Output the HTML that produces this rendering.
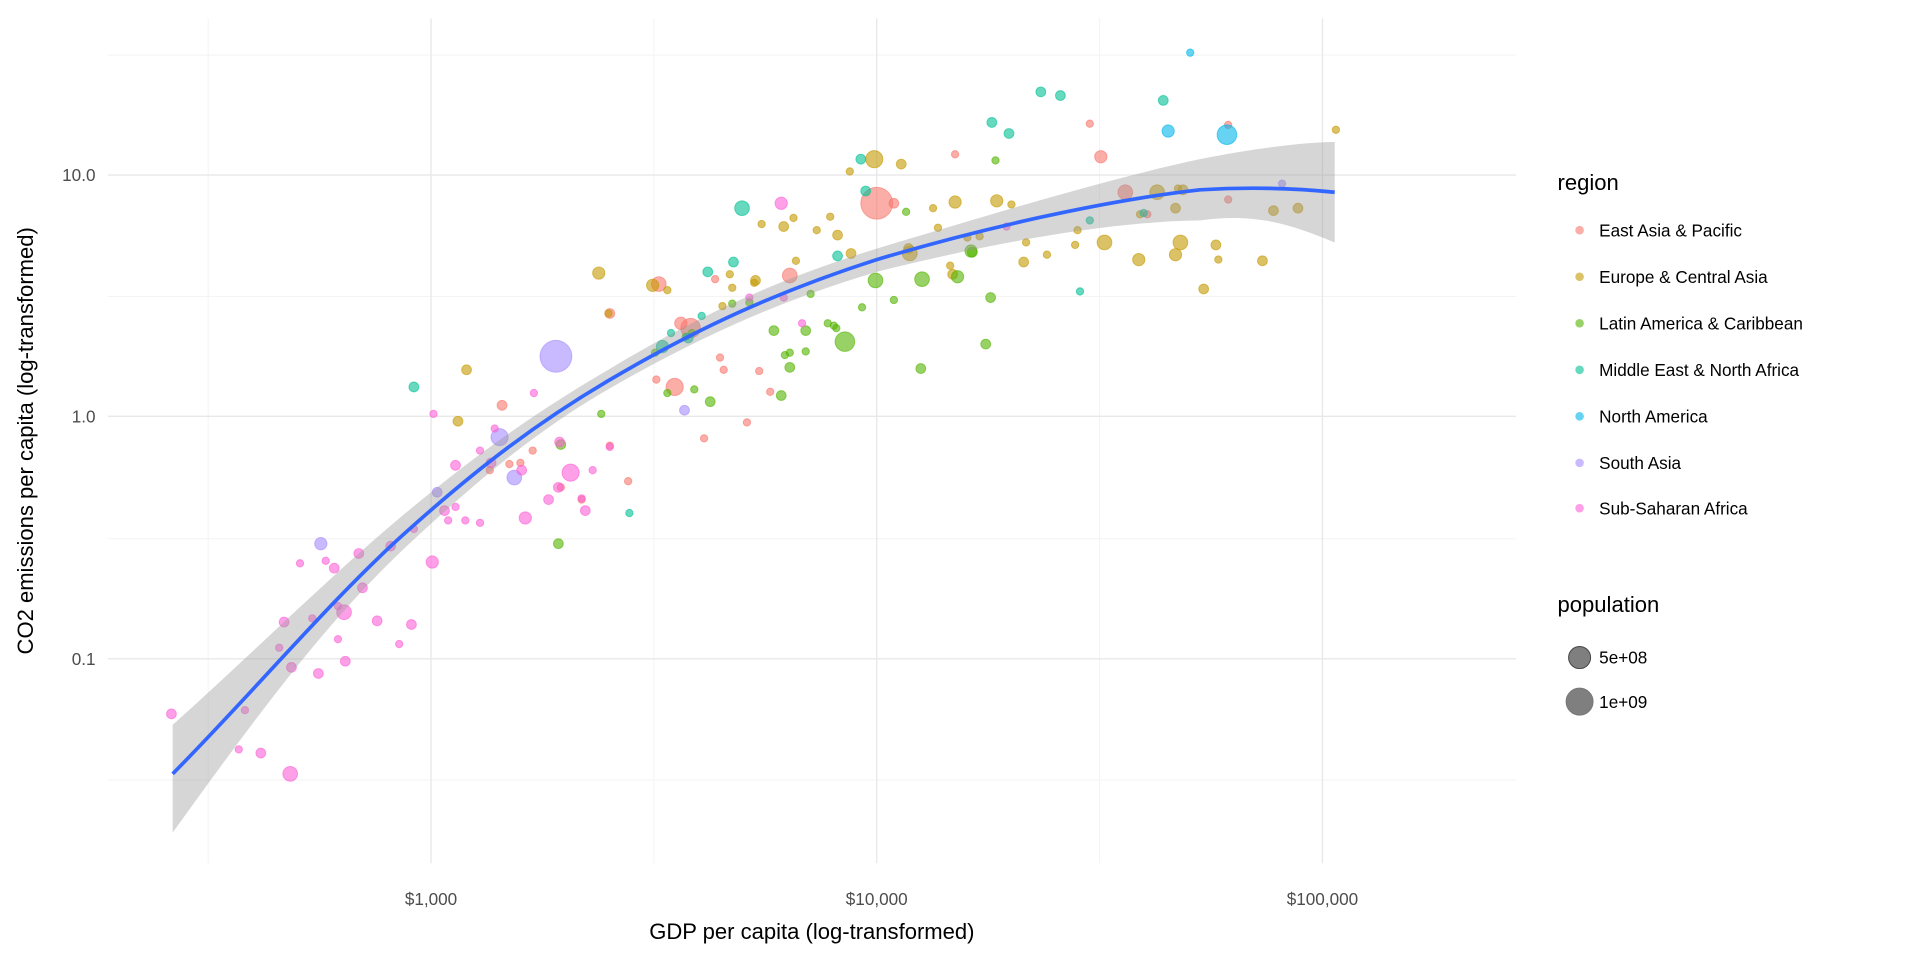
<!DOCTYPE html>
<html><head><meta charset="utf-8"><style>
html,body{margin:0;padding:0;background:#fff}
svg{display:block}
text{font-family:"Liberation Sans",Arial,sans-serif}
</style></head><body>
<svg width="1920" height="960" viewBox="0 0 1568 784" xmlns="http://www.w3.org/2000/svg">
<rect width="1568" height="784" fill="#fff"/>
<g stroke="#f3f3f3" stroke-width="0.8">
<line x1="170" y1="15" x2="170" y2="705"/><line x1="534" y1="15" x2="534" y2="705"/><line x1="898" y1="15" x2="898" y2="705"/>
<line x1="88" y1="45" x2="1238" y2="45"/><line x1="88" y1="242" x2="1238" y2="242"/><line x1="88" y1="440" x2="1238" y2="440"/><line x1="88" y1="637" x2="1238" y2="637"/>
</g>
<g stroke="#e8e8e8" stroke-width="1.1">
<line x1="352" y1="15" x2="352" y2="705"/><line x1="716" y1="15" x2="716" y2="705"/><line x1="1080" y1="15" x2="1080" y2="705"/>
<line x1="88" y1="143" x2="1238" y2="143"/><line x1="88" y1="340" x2="1238" y2="340"/><line x1="88" y1="538" x2="1238" y2="538"/>
</g>
<g fill-opacity="0.6" stroke-opacity="0.6" stroke-width="0.8">
<g fill="#F8766D" stroke="#F8766D">
<circle cx="716" cy="166" r="13"/><circle cx="919" cy="157" r="6"/><circle cx="899" cy="128" r="5"/><circle cx="564" cy="268" r="8"/><circle cx="538" cy="232" r="6"/><circle cx="551" cy="316" r="7"/><circle cx="645" cy="225" r="6"/><circle cx="498" cy="256" r="4"/><circle cx="410" cy="331" r="4"/><circle cx="416" cy="379" r="3"/><circle cx="425" cy="378" r="3"/><circle cx="400" cy="384" r="3"/><circle cx="536" cy="310" r="3"/><circle cx="575" cy="358" r="3"/><circle cx="588" cy="292" r="3"/><circle cx="591" cy="302" r="3"/><circle cx="620" cy="303" r="3"/><circle cx="780" cy="126" r="3"/><circle cx="1003" cy="163" r="3"/><circle cx="1003" cy="102" r="3"/><circle cx="890" cy="101" r="3"/><circle cx="513" cy="393" r="3"/><circle cx="475" cy="408" r="3"/><circle cx="584" cy="228" r="3"/><circle cx="937" cy="175" r="3"/><circle cx="730" cy="166" r="4"/><circle cx="498" cy="364" r="3"/><circle cx="556" cy="264" r="5"/><circle cx="610" cy="345" r="3"/><circle cx="629" cy="320" r="3"/><circle cx="458" cy="398" r="3"/><circle cx="435" cy="368" r="3"/>
</g>
<g fill="#C49A00" stroke="#C49A00">
<circle cx="714" cy="130" r="7"/><circle cx="736" cy="134" r="4"/><circle cx="694" cy="140" r="3"/><circle cx="780" cy="165" r="5"/><circle cx="762" cy="170" r="3"/><circle cx="814" cy="164" r="5"/><circle cx="826" cy="167" r="3"/><circle cx="945" cy="157" r="6"/><circle cx="960" cy="170" r="4"/><circle cx="966" cy="155" r="4"/><circle cx="962" cy="154" r="3"/><circle cx="931" cy="175" r="3"/><circle cx="880" cy="188" r="3"/><circle cx="902" cy="198" r="6"/><circle cx="878" cy="200" r="3"/><circle cx="930" cy="212" r="5"/><circle cx="960" cy="208" r="5"/><circle cx="964" cy="198" r="6"/><circle cx="983" cy="236" r="4"/><circle cx="993" cy="200" r="4"/><circle cx="995" cy="212" r="3"/><circle cx="1031" cy="213" r="4"/><circle cx="1060" cy="170" r="4"/><circle cx="1040" cy="172" r="4"/><circle cx="1091" cy="106" r="3"/><circle cx="836" cy="214" r="4"/><circle cx="838" cy="198" r="3"/><circle cx="800" cy="193" r="3"/><circle cx="790" cy="194" r="3"/><circle cx="776" cy="217" r="3"/><circle cx="778" cy="224" r="4"/><circle cx="743" cy="207" r="6"/><circle cx="742" cy="203" r="4"/><circle cx="695" cy="207" r="4"/><circle cx="684" cy="192" r="4"/><circle cx="667" cy="188" r="3"/><circle cx="678" cy="177" r="3"/><circle cx="640" cy="185" r="4"/><circle cx="622" cy="183" r="3"/><circle cx="648" cy="178" r="3"/><circle cx="617" cy="229" r="4"/><circle cx="598" cy="235" r="3"/><circle cx="590" cy="250" r="3"/><circle cx="596" cy="224" r="3"/><circle cx="616" cy="231" r="3"/><circle cx="533" cy="233" r="5"/><circle cx="545" cy="237" r="3"/><circle cx="489" cy="223" r="5"/><circle cx="497" cy="256" r="3"/><circle cx="381" cy="302" r="4"/><circle cx="374" cy="344" r="4"/><circle cx="855" cy="208" r="3"/><circle cx="766" cy="186" r="3"/><circle cx="650" cy="213" r="3"/>
</g>
<g fill="#53B400" stroke="#53B400">
<circle cx="690" cy="279" r="8"/><circle cx="715" cy="229" r="6"/><circle cx="753" cy="228" r="6"/><circle cx="782" cy="226" r="5"/><circle cx="793" cy="205" r="5"/><circle cx="794" cy="206" r="4"/><circle cx="809" cy="243" r="4"/><circle cx="752" cy="301" r="4"/><circle cx="805" cy="281" r="4"/><circle cx="813" cy="131" r="3"/><circle cx="730" cy="245" r="3"/><circle cx="704" cy="251" r="3"/><circle cx="676" cy="264" r="3"/><circle cx="683" cy="268" r="3"/><circle cx="645" cy="300" r="4"/><circle cx="638" cy="323" r="4"/><circle cx="658" cy="270" r="4"/><circle cx="658" cy="287" r="3"/><circle cx="645" cy="288" r="3"/><circle cx="632" cy="270" r="4"/><circle cx="612" cy="247" r="3"/><circle cx="598" cy="248" r="3"/><circle cx="580" cy="328" r="4"/><circle cx="567" cy="318" r="3"/><circle cx="545" cy="321" r="3"/><circle cx="491" cy="338" r="3"/><circle cx="458" cy="363" r="4"/><circle cx="456" cy="444" r="4"/><circle cx="535" cy="288" r="3"/><circle cx="560" cy="275" r="3"/><circle cx="565" cy="272" r="3"/><circle cx="662" cy="240" r="3"/><circle cx="641" cy="290" r="3"/><circle cx="740" cy="173" r="3"/><circle cx="681" cy="266" r="3"/>
</g>
<g fill="#00C094" stroke="#00C094">
<circle cx="338" cy="316" r="4"/><circle cx="578" cy="222" r="4"/><circle cx="599" cy="214" r="4"/><circle cx="606" cy="170" r="6"/><circle cx="541" cy="283" r="5"/><circle cx="562" cy="276" r="4"/><circle cx="548" cy="272" r="3"/><circle cx="573" cy="258" r="3"/><circle cx="684" cy="209" r="4"/><circle cx="707" cy="156" r="4"/><circle cx="703" cy="130" r="4"/><circle cx="810" cy="100" r="4"/><circle cx="824" cy="109" r="4"/><circle cx="850" cy="75" r="4"/><circle cx="866" cy="78" r="4"/><circle cx="950" cy="82" r="4"/><circle cx="882" cy="238" r="3"/><circle cx="934" cy="174" r="3"/><circle cx="514" cy="419" r="3"/><circle cx="890" cy="180" r="3"/>
</g>
<g fill="#00B6EB" stroke="#00B6EB">
<circle cx="1002" cy="110" r="8"/><circle cx="954" cy="107" r="5"/><circle cx="972" cy="43" r="3"/>
</g>
<g fill="#A58AFF" stroke="#A58AFF">
<circle cx="454" cy="291" r="13"/><circle cx="408" cy="357" r="7"/><circle cx="420" cy="390" r="6"/><circle cx="262" cy="444" r="5"/><circle cx="357" cy="402" r="4"/><circle cx="559" cy="335" r="4"/><circle cx="1047" cy="150" r="3"/>
</g>
<g fill="#FB61D7" stroke="#FB61D7">
<circle cx="466" cy="386" r="7"/><circle cx="353" cy="459" r="5"/><circle cx="281" cy="500" r="6"/><circle cx="237" cy="632" r="6"/><circle cx="232" cy="508" r="4"/><circle cx="238" cy="545" r="4"/><circle cx="260" cy="550" r="4"/><circle cx="273" cy="464" r="4"/><circle cx="282" cy="540" r="4"/><circle cx="293" cy="452" r="4"/><circle cx="296" cy="480" r="4"/><circle cx="308" cy="507" r="4"/><circle cx="319" cy="446" r="4"/><circle cx="326" cy="526" r="3"/><circle cx="336" cy="510" r="4"/><circle cx="338" cy="432" r="3"/><circle cx="195" cy="612" r="3"/><circle cx="213" cy="615" r="4"/><circle cx="140" cy="583" r="4"/><circle cx="276" cy="522" r="3"/><circle cx="276" cy="495" r="3"/><circle cx="245" cy="460" r="3"/><circle cx="266" cy="458" r="3"/><circle cx="363" cy="417" r="4"/><circle cx="372" cy="380" r="4"/><circle cx="380" cy="425" r="3"/><circle cx="372" cy="414" r="3"/><circle cx="392" cy="427" r="3"/><circle cx="401" cy="378" r="4"/><circle cx="404" cy="350" r="3"/><circle cx="426" cy="384" r="4"/><circle cx="429" cy="423" r="5"/><circle cx="448" cy="408" r="4"/><circle cx="456" cy="398" r="4"/><circle cx="475" cy="407" r="3"/><circle cx="478" cy="417" r="4"/><circle cx="436" cy="321" r="3"/><circle cx="354" cy="338" r="3"/><circle cx="457" cy="361" r="4"/><circle cx="498" cy="365" r="3"/><circle cx="655" cy="264" r="3"/><circle cx="638" cy="166" r="5"/><circle cx="612" cy="243" r="3"/><circle cx="640" cy="243" r="3"/><circle cx="822" cy="185" r="3"/><circle cx="484" cy="384" r="3"/><circle cx="228" cy="529" r="3"/><circle cx="200" cy="580" r="3"/><circle cx="392" cy="368" r="3"/><circle cx="366" cy="425" r="3"/><circle cx="255" cy="505" r="3"/>
</g>
</g>
<path d="M141,592 C210,530 270,470 330,420 C390,370 440,335 500,300 C570,258 635,228 716,203 C800,178 900,147 980,130 C1030,120 1070,116 1090,116 L1090,198 C1060,186 1030,173 980,180 C900,181 800,201 716,222 C635,246 570,276 500,316 C440,350 390,392 330,448 C270,505 220,570 141,680 Z" fill="#999" fill-opacity="0.4"/>
<path d="M141,632 C210,562 270,490 330,436 C390,382 440,344 500,309 C570,268 635,238 716,212 C800,187 900,164 980,155 C1030,152 1070,155 1090,157" fill="none" stroke="#3366FF" stroke-width="3"/>
<g font-size="14" fill="#4d4d4d">
<text x="78" y="148" text-anchor="end">10.0</text>
<text x="78" y="345" text-anchor="end">1.0</text>
<text x="78" y="543" text-anchor="end">0.1</text>
<text x="352" y="739" text-anchor="middle">$1,000</text>
<text x="716" y="739" text-anchor="middle">$10,000</text>
<text x="1080" y="739" text-anchor="middle">$100,000</text>
</g>
<text x="663" y="767" font-size="18" text-anchor="middle" fill="#000">GDP per capita (log-transformed)</text>
<text transform="translate(27,360) rotate(-90)" font-size="18" text-anchor="middle" fill="#000">CO2 emissions per capita (log-transformed)</text>
<text x="1272" y="155" font-size="18" fill="#000">region</text>
<g font-size="14" fill="#000">
<circle cx="1290" cy="188" r="3.5" fill="#F8766D" fill-opacity="0.6"/><text x="1306" y="193">East Asia &amp; Pacific</text>
<circle cx="1290" cy="226" r="3.5" fill="#C49A00" fill-opacity="0.6"/><text x="1306" y="231">Europe &amp; Central Asia</text>
<circle cx="1290" cy="264" r="3.5" fill="#53B400" fill-opacity="0.6"/><text x="1306" y="269">Latin America &amp; Caribbean</text>
<circle cx="1290" cy="302" r="3.5" fill="#00C094" fill-opacity="0.6"/><text x="1306" y="307">Middle East &amp; North Africa</text>
<circle cx="1290" cy="340" r="3.5" fill="#00B6EB" fill-opacity="0.6"/><text x="1306" y="345">North America</text>
<circle cx="1290" cy="378" r="3.5" fill="#A58AFF" fill-opacity="0.6"/><text x="1306" y="383">South Asia</text>
<circle cx="1290" cy="415" r="3.5" fill="#FB61D7" fill-opacity="0.6"/><text x="1306" y="420">Sub-Saharan Africa</text>
</g>
<text x="1272" y="500" font-size="18" fill="#000">population</text>
<circle cx="1290" cy="537" r="9" fill="#7f7f7f" stroke="#444" stroke-width="0.8"/>
<circle cx="1290" cy="573" r="11" fill="#7f7f7f" stroke="#777" stroke-width="0.8"/>
<g font-size="14" fill="#000"><text x="1306" y="542">5e+08</text><text x="1306" y="578">1e+09</text></g>
</svg>
</body></html>
